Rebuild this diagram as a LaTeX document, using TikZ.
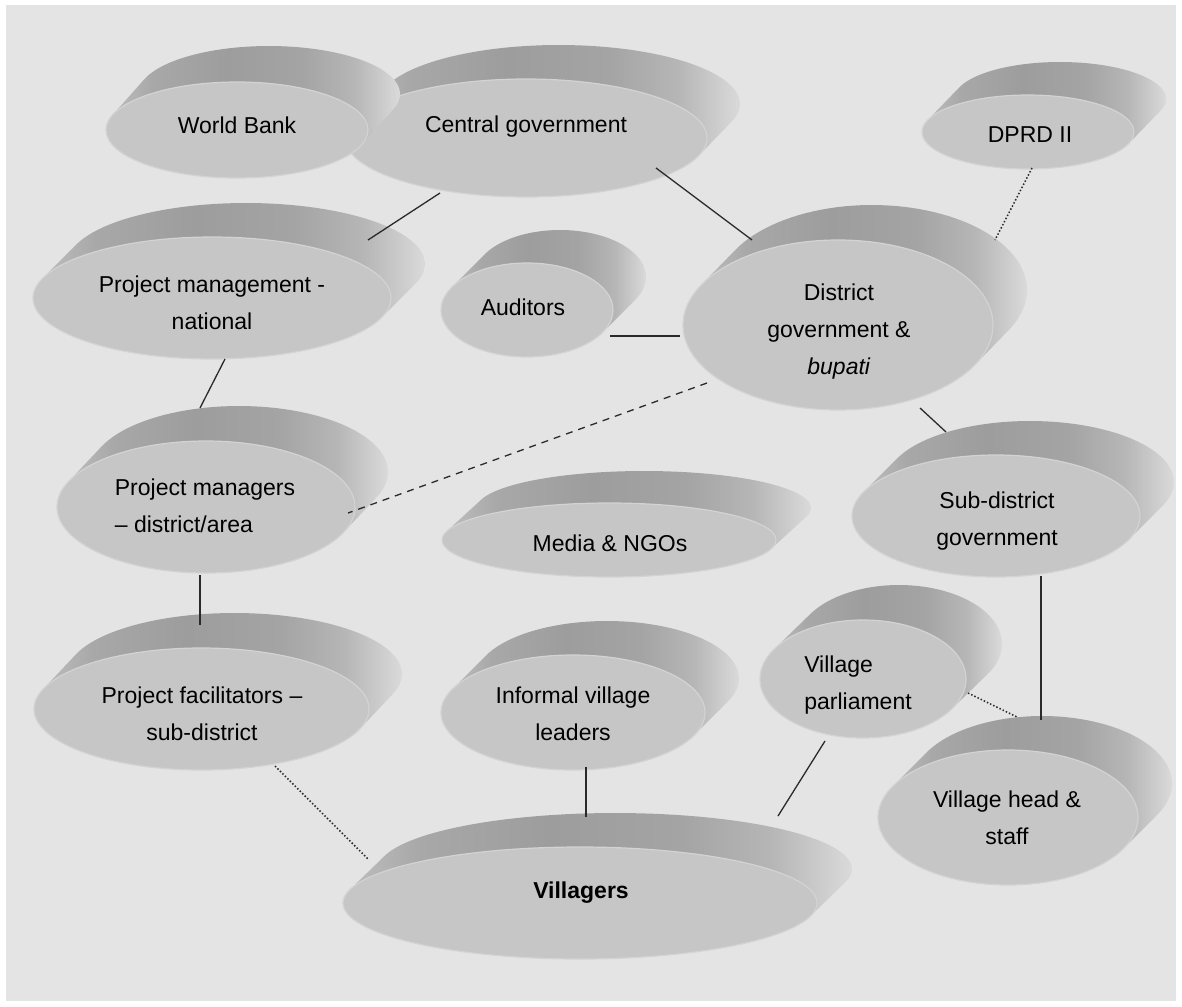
\documentclass[tikz,border=0pt]{standalone}
\usepackage{fontspec}
\setmainfont{Liberation Sans}
\usetikzlibrary{calc,shapes.geometric}
\definecolor{bgc}{HTML}{E4E4E4}
\definecolor{facec}{HTML}{C6C6C6}
\definecolor{rimc}{HTML}{D3D3D3}
\definecolor{linec}{HTML}{2A2A2A}
\definecolor{ea}{HTML}{BEBEBE}
\definecolor{eb}{HTML}{A8A8A8}
\definecolor{ec}{HTML}{9D9D9D}
\definecolor{ed}{HTML}{A4A4A4}
\definecolor{ee}{HTML}{B6B6B6}
\definecolor{ef}{HTML}{DADADA}
\pgfdeclarehorizontalshading{extr}{100bp}{color(0bp)=(ea); color(25bp)=(ea); color(32bp)=(eb); color(45bp)=(ec); color(58bp)=(ed); color(67bp)=(ee); color(75bp)=(ef); color(100bp)=(ef)}
\tikzset{
  face/.style={ellipse, fill=facec, draw=rimc, line width=1.2pt, inner sep=0pt},
  lbl/.style={font=\fontsize{23}{37}\selectfont, align=center, inner sep=0pt},
  conn/.style={draw=linec, line width=1.3pt},
  dotconn/.style={draw=linec, line width=1.5pt, dotted},
  dashconn/.style={draw=linec, line width=1.3pt, dash pattern=on 7pt off 6pt},
}
% #1 name, #2 cx, #3 cy, #4 a, #5 b, #6 dx, #7 dy (up)
\newcommand\mydisk[7]{%
  \pgfmathsetmacro\tA{atan((#5*#6)/(#4*#7))}%
  \pgfmathsetmacro\tS{\tA+180}%
  \pgfmathsetmacro\tE{\tA+360}%
  \shade[shading=extr] plot[domain=\tS:\tE, samples=60, variable=\u]
     ({#2+#6+#4*cos(\u)},{#3-#7+#5*sin(\u)})
     -- ({#2+#4*cos(\tA)},{#3+#5*sin(\tA)})
     -- ({#2-#4*cos(\tA)},{#3-#5*sin(\tA)}) -- cycle;
  \node[face, minimum width=2*#4pt, minimum height=2*#5pt] (#1) at (#2,#3) {};
}
\begin{document}
\begin{tikzpicture}[x=1pt, y=-1pt]
\useasboundingbox (0,0) rectangle (1182,1006);
\fill[white] (0,0) rectangle (1182,1006);
\fill[bgc] (6,5) rectangle (1176,1001);

% disks
\mydisk{cg}{526}{138}{181}{59}{33}{34}
\mydisk{wb}{237}{130}{131}{48}{32}{36}
\mydisk{dprd}{1028}{132}{106}{37}{32}{33}
\mydisk{pmn}{212}{298}{179}{61}{34}{34}
\mydisk{aud}{527}{310}{86}{47}{33}{33}
\mydisk{dg}{838}{325}{155}{85}{34}{35}
\mydisk{pmd}{206}{507}{149}{66}{33}{35}
\mydisk{media}{609}{540}{167}{37}{35}{32}
\mydisk{sd}{996}{516}{144}{61}{34}{34}
\mydisk{pf}{201.5}{709}{167.5}{61}{33}{35}
\mydisk{ivl}{573}{712.5}{132}{57.5}{34}{34}
\mydisk{vp}{863}{679}{103}{59}{36}{35}
\mydisk{vh}{1008}{817.5}{130}{67.5}{34}{34}
\mydisk{vil}{580}{903}{237}{56}{35}{34}

% labels
\node[lbl] (cgT) at (526,127) {Central government};
\node[lbl] (wbT) at (237,125) {World Bank};
\node[lbl] (dprdT) at (1030,135) {DPRD II};
\node[lbl] (pmnT) at (212,303) {Project management -\\national};
\node[lbl] (audT) at (523,307) {Auditors};
\node[lbl] (dgT) at (839,332) {District\\government \&\\\textit{bupati}};
\node[lbl, align=left] (pmdT) at (205,506) {Project managers\\– district/area};
\node[lbl] (mediaT) at (610,543) {Media \& NGOs};
\node[lbl] (sdT) at (997,521) {Sub-district\\government};
\node[lbl] (pfT) at (202,714) {Project facilitators –\\sub-district};
\node[lbl] (ivlT) at (573,714) {Informal village\\leaders};
\node[lbl, align=left] (vpT) at (858,685) {Village\\parliament};
\node[lbl] (vhT) at (1007,818) {Village head \&\\staff};
\node[lbl, font=\fontsize{23}{37}\selectfont\bfseries] (vilT) at (581,893) {Villagers};

% connectors
\draw[conn] ($(cg.center)+(-86,55)$) -- ($(pmn.center)+(156,-58)$);
\draw[conn] ($(cg.center)+(130,30)$) -- ($(dg.center)+(-86,-85)$);
\draw[dotconn] ($(dprd.center)+(4,36)$) -- ($(dg.center)+(157,-85)$);
\draw[conn] ($(aud.center)+(83,26)$) -- ($(dg.center)+(-158,11)$);
\draw[conn] ($(pmn.center)+(13,61)$) -- ($(pmd.center)+(-6,-99)$);
\draw[dashconn] ($(dg.center)+(-131,58)$) -- ($(pmd.center)+(142,6)$);
\draw[conn] ($(dg.center)+(82,83)$) -- ($(sd.center)+(-50,-84)$);
\draw[conn] ($(pmd.center)+(-6,68)$) -- ($(pf.center)+(-1.5,-84)$);
\draw[conn] ($(sd.center)+(45,60)$) -- ($(vh.center)+(33,-97.5)$);
\draw[dotconn] ($(vp.center)+(105,14)$) -- ($(vh.center)+(9,-100.5)$);
\draw[dotconn] ($(pf.center)+(73.5,57)$) -- ($(vil.center)+(-211,-43)$);
\draw[conn] ($(ivl.center)+(13,54.5)$) -- ($(vil.center)+(6,-86)$);
\draw[conn] ($(vp.center)+(-38,62)$) -- ($(vil.center)+(198,-87)$);
\end{tikzpicture}
\end{document}
